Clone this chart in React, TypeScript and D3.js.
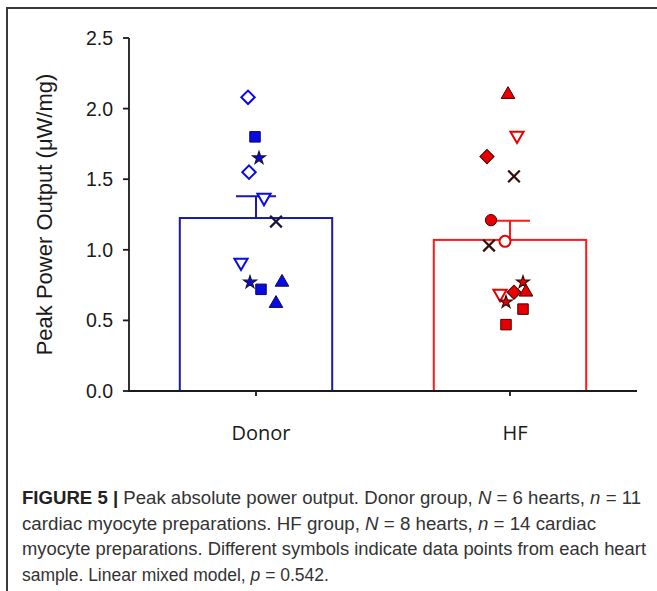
import React from "react";
import * as d3 from "d3";

const categories = ["Donor", "HF"];
const means = [1.225, 1.07];
const errors = [0.155, 0.135];
const yTicks = [0, 0.5, 1.0, 1.5, 2.0, 2.5];

const donorValues = [2.08, 1.8, 1.65, 1.55, 1.37, 1.2, 0.91, 0.77, 0.72, 0.77, 0.62];
const donorSymbols = ["diamondOpen", "square", "star", "diamondOpen", "triDownOpen", "x", "triDownOpen", "star", "square", "triangle", "triangle"];
const donorJitter = [-8, -1, 3, -7, 8, 20, -15, -6, 5, 26, 20];

const hfValues = [2.1, 1.81, 1.66, 1.52, 1.21, 1.06, 1.03, 0.77, 0.69, 0.7, 0.7, 0.63, 0.58, 0.47];
const hfSymbols = ["triangle", "triDownOpen", "diamond", "x", "circle", "circleOpen", "x", "star", "triDownOpen", "diamond", "triangle", "star", "square", "square"];
const hfJitter = [-2, 7, -23, 4, -19, -5, -21, 13, -10, 4, 16, -4, 13, -4];

const captionLines = [
  "Peak absolute power output. Donor group, N = 6 hearts, n = 11",
  "cardiac myocyte preparations. HF group, N = 8 hearts, n = 14 cardiac",
  "myocyte preparations. Different symbols indicate data points from each heart",
  "sample. Linear mixed model, p = 0.542.",
];

const palettes = [
  { bar: "#1a1aa6", fill: "#0a0ae6", edge: "#0a0a50", dark: "#14143c" },
  { bar: "#ff1a1a", fill: "#e80000", edge: "#4a0000", dark: "#3a0a0a" },
];

function Marker({ kind, x, y, pal }: { kind: string; x: number; y: number; pal: any }) {
  const sym = (t: any, s: number) => d3.symbol().type(t).size(s)() || "";
  switch (kind) {
    case "diamondOpen":
      return <path d={sym(d3.symbolSquare, 90)} transform={`translate(${x},${y}) rotate(45)`} fill="#fff" stroke={pal.fill} strokeWidth={2} />;
    case "diamond":
      return <path d={sym(d3.symbolSquare, 100)} transform={`translate(${x},${y}) rotate(45)`} fill={pal.fill} stroke={pal.edge} strokeWidth={1} />;
    case "square":
      return <path d={sym(d3.symbolSquare, 110)} transform={`translate(${x},${y})`} fill={pal.fill} stroke={pal.edge} strokeWidth={1} />;
    case "triangle":
      return <path d={sym(d3.symbolTriangle, 80)} transform={`translate(${x},${y})`} fill={pal.fill} stroke={pal.edge} strokeWidth={1} />;
    case "triDownOpen":
      return <path d={sym(d3.symbolTriangle, 75)} transform={`translate(${x},${y}) rotate(180)`} fill="#fff" stroke={pal.fill} strokeWidth={2} />;
    case "star":
      return <path d={sym(d3.symbolStar, 50)} transform={`translate(${x},${y})`} fill={pal.fill} stroke={pal.dark} strokeWidth={1.2} />;
    case "x":
      return <path d={sym(d3.symbolTimes, 90)} transform={`translate(${x},${y})`} fill="none" stroke={pal.dark} strokeWidth={2.2} />;
    case "circle":
      return <path d={sym(d3.symbolCircle, 100)} transform={`translate(${x},${y})`} fill={pal.fill} stroke={pal.edge} strokeWidth={1} />;
    case "circleOpen":
      return <path d={sym(d3.symbolCircle, 95)} transform={`translate(${x},${y})`} fill="#fff" stroke={pal.fill} strokeWidth={2} />;
    default:
      return null;
  }
}

export default function App() {
  const W = 657, H = 591;
  const x = d3.scaleBand<string>().domain(categories).range([129, 637]).paddingInner(0.4).paddingOuter(0.2);
  const y = d3.scaleLinear().domain([0, 2.5]).range([391, 38]);
  const groups = [
    { values: donorValues, symbols: donorSymbols, jitter: donorJitter },
    { values: hfValues, symbols: hfSymbols, jitter: hfJitter },
  ];
  const axisFont = "'Liberation Sans', Arial, sans-serif";
  const italicize = (s: string, re: RegExp, keys: string[]) =>
    s.split(re).map((p, k) => (keys.includes(p) ? <tspan key={k} fontStyle="italic">{p}</tspan> : <tspan key={k}>{p}</tspan>));
  return (
    <svg width={W} height={H} style={{ position: "absolute", left: 0, top: 0, background: "#fff" }}>
      <rect x={0} y={0} width={W} height={H} fill="#fff" />
      <path d={`M7,${H} V8 H${W}`} fill="none" stroke="#3a3a3a" strokeWidth={2} />

      {categories.map((c, i) => {
        const x0 = x(c)!;
        const cx = x0 + x.bandwidth() / 2;
        const pal = palettes[i];
        return (
          <g key={c}>
            <line x1={cx} x2={cx} y1={y(means[i])} y2={y(means[i] + errors[i])} stroke={pal.bar} strokeWidth={2} />
            <line x1={cx - 20} x2={cx + 20} y1={y(means[i] + errors[i])} y2={y(means[i] + errors[i])} stroke={pal.bar} strokeWidth={2} />
            <rect x={x0} y={y(means[i])} width={x.bandwidth()} height={y(0) - y(means[i])} fill="none" stroke={pal.bar} strokeWidth={2} />
          </g>
        );
      })}

      {groups.map((g, gi) => {
        const cx = x(categories[gi])! + x.bandwidth() / 2;
        return (
          <g key={gi}>
            {g.values.map((v, j) => (
              <Marker key={j} kind={g.symbols[j]} x={cx + g.jitter[j]} y={y(v)} pal={palettes[gi]} />
            ))}
          </g>
        );
      })}

      <line x1={129} x2={129} y1={y(2.5)} y2={y(0)} stroke="#1a1a1a" strokeWidth={1.8} />
      <line x1={128} x2={637} y1={y(0)} y2={y(0)} stroke="#1a1a1a" strokeWidth={1.8} />
      {yTicks.map((t) => (
        <g key={t}>
          <line x1={123} x2={129} y1={y(t)} y2={y(t)} stroke="#1a1a1a" strokeWidth={1.8} />
          <text x={113} y={y(t)} dy="0.36em" textAnchor="end" fontFamily={axisFont} fontSize={19.5} fill="#1a1a1a">
            {t.toFixed(1)}
          </text>
        </g>
      ))}
      {categories.map((c) => {
        const cx = x(c)! + x.bandwidth() / 2;
        return (
          <g key={c}>
            <line x1={cx} x2={cx} y1={y(0)} y2={y(0) + 5} stroke="#1a1a1a" strokeWidth={1.8} />
            <text x={cx + 5} y={y(0) + 49} textAnchor="middle" fontFamily="'Open Sans', sans-serif" fontSize={20} fill="#1a1a1a">
              {c}
            </text>
          </g>
        );
      })}
      <text transform={`translate(52,${(y(0) + y(2.5)) / 2}) rotate(-90)`} textAnchor="middle" fontFamily={axisFont} fontSize={22} fill="#1a1a1a">
        Peak Power Output (μW/mg)
      </text>

      <g fontFamily={axisFont} fontSize={17.5} fill="#333">
        <text x={22} y={504} textLength={619} lengthAdjust="spacingAndGlyphs">
          <tspan fontWeight="bold" fill="#222">FIGURE 5 | </tspan>
          {italicize(captionLines[0], /(N|n)(?= =)/, ["N", "n"])}
        </text>
        <text x={22} y={530} textLength={574} lengthAdjust="spacingAndGlyphs">
          {italicize(captionLines[1], /(N|n)(?= =)/, ["N", "n"])}
        </text>
        <text x={22} y={555} textLength={624} lengthAdjust="spacingAndGlyphs">
          {captionLines[2]}
        </text>
        <text x={22} y={581}>
          {italicize(captionLines[3], /(p)(?= =)/, ["p"])}
        </text>
      </g>
    </svg>
  );
}
